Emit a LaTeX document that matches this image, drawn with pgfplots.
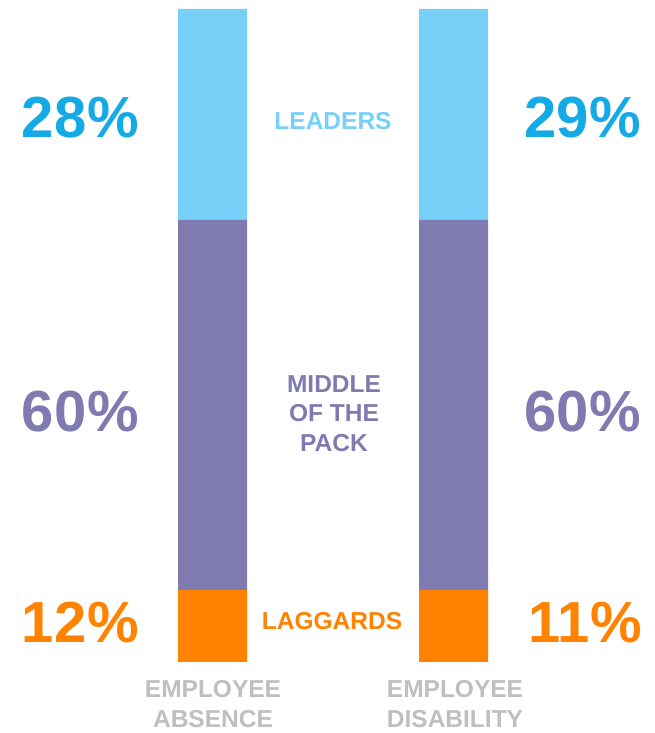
\documentclass[border=0pt]{standalone}
\usepackage{fontspec}
\setmainfont{Liberation Sans}
\usepackage{pgfplots}
\pgfplotsset{compat=1.18}

\definecolor{barblue}{HTML}{77D0F7}
\definecolor{barpurple}{HTML}{7F7BB1}
\definecolor{barorange}{HTML}{FF8200}
\definecolor{txtblue}{HTML}{14AAE6}
\definecolor{txtgray}{HTML}{BFBFBF}

\tikzset{
  big/.style={font=\fontsize{58bp}{60bp}\selectfont\bfseries, inner sep=0pt, anchor=base},
  small/.style={font=\fontsize{24.5bp}{26bp}\selectfont\bfseries, inner sep=0pt, anchor=base},
}

\begin{document}
\begin{tikzpicture}
  \begin{axis}[
      scale only axis,
      width=655bp, height=733bp,
      hide axis, clip=false,
      xmin=0, xmax=655,
      ymin=-10.873, ymax=101.378,
      ybar stacked, bar width=69,
      every axis plot/.append style={draw=none},
    ]
    % bottom to top: laggards, middle of the pack, leaders
    \addplot[fill=barorange] coordinates {(212.5,11.0) (453.5,11.0)};
    \addplot[fill=barpurple] coordinates {(212.5,56.7) (453.5,56.7)};
    \addplot[fill=barblue] coordinates {(212.5,32.3) (453.5,32.3)};

    \path (rel axis cs:0,0) rectangle (rel axis cs:1,1);

    \node[big, text=txtblue] at (axis cs:80.5,80.30) {28\kern1bp\%};
    \node[big, text=barpurple] at (axis cs:80.5,35.30) {60\kern1bp\%};
    \node[big, text=barorange] at (axis cs:80.5,3.00) {12\kern1bp\%};
    \node[big, text=txtblue] at (axis cs:583,80.30) {29\kern1bp\%};
    \node[big, text=barpurple] at (axis cs:583,35.30) {60\kern1bp\%};
    \node[big, text=barorange] at (axis cs:585,3.00) {11\kern1bp\%};

    \node[small, text=barblue] at (axis cs:333,81.55) {LEADERS};
    \node[small, text=barpurple] at (axis cs:334,41.20) {MIDDLE};
    \node[small, text=barpurple] at (axis cs:334,36.80) {OF THE};
    \node[small, text=barpurple] at (axis cs:334,32.25) {PACK};
    \node[small, text=barorange] at (axis cs:332,5.00) {LAGGARDS};

    \node[small, text=txtgray] at (axis cs:213,-5.45) {EMPLOYEE};
    \node[small, text=txtgray] at (axis cs:213,-10.05) {ABSENCE};
    \node[small, text=txtgray] at (axis cs:455,-5.45) {EMPLOYEE};
    \node[small, text=txtgray] at (axis cs:455,-10.05) {DISABILITY};
  \end{axis}
\end{tikzpicture}
\end{document}
